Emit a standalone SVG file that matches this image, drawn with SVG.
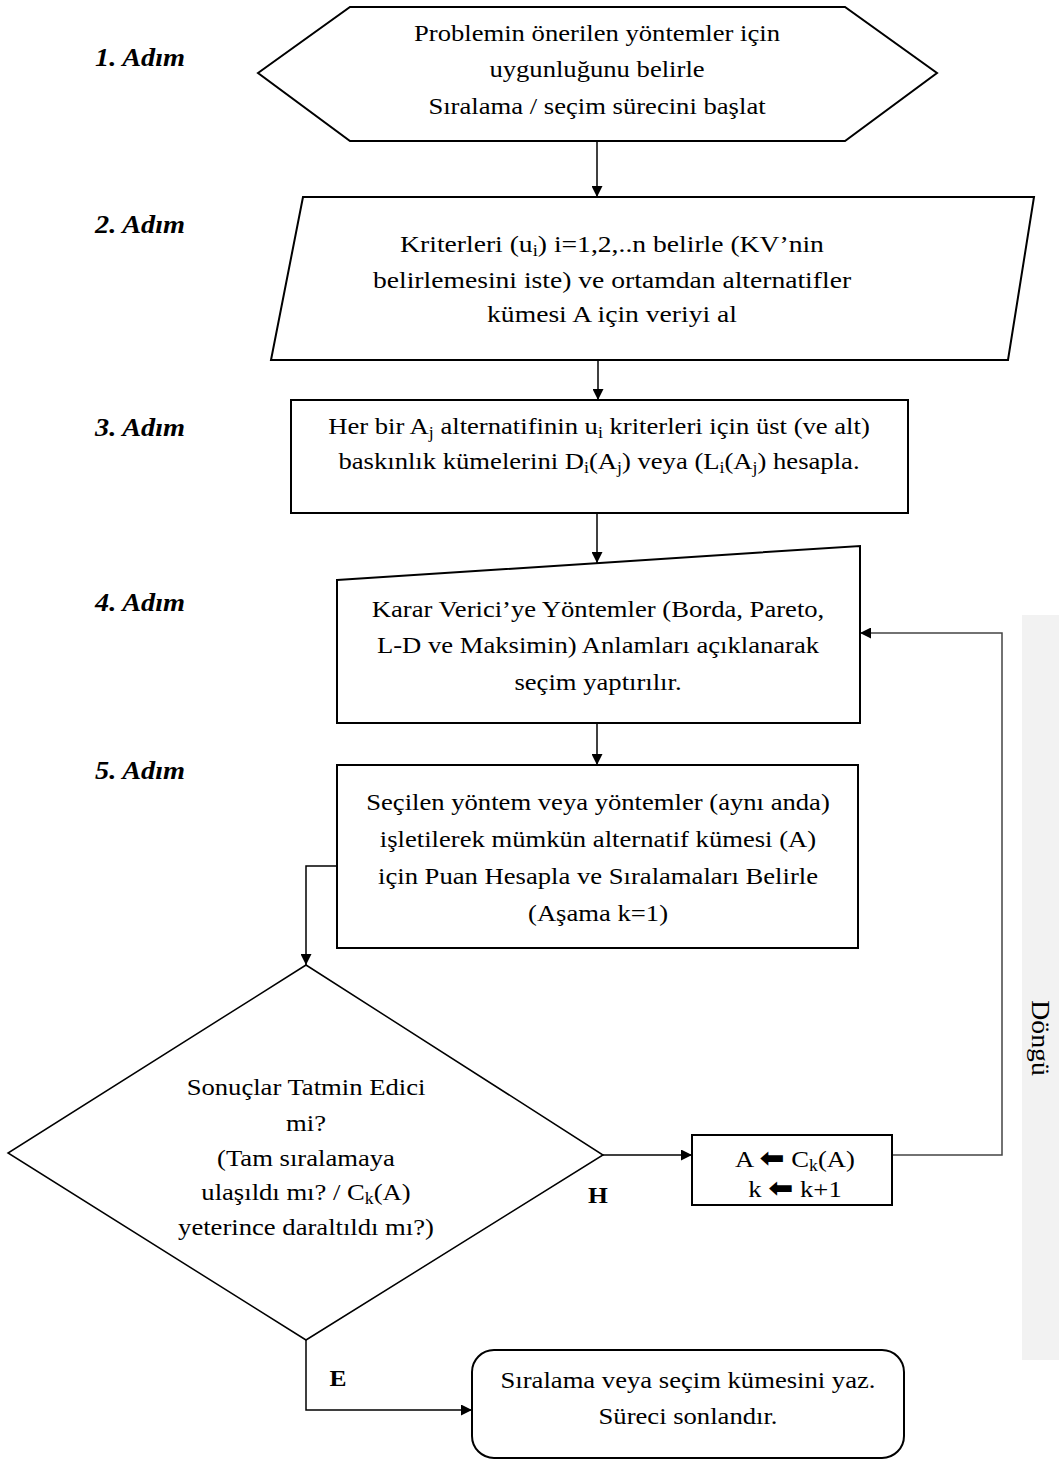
<svg xmlns="http://www.w3.org/2000/svg" width="1059" height="1461" viewBox="0 0 1059 1461">
<style>
.shape{fill:#fff;stroke:#000;stroke-width:2}
.thin{fill:#fff;stroke:#000;stroke-width:1.5}
.t{font-family:"Liberation Serif","Times New Roman",serif;font-size:24px;fill:#000;text-anchor:middle}
.step{font-family:"Liberation Serif","Times New Roman",serif;font-size:25.5px;font-weight:bold;font-style:italic;fill:#000}
.lbl{font-family:"Liberation Serif","Times New Roman",serif;font-size:23px;font-weight:bold;fill:#000}
.c{fill:none;stroke:#000;stroke-width:1.5}
.sub{font-size:16px}
.arw{font-family:"DejaVu Sans",sans-serif;font-size:27px;font-weight:bold}
</style>
<defs>
<marker id="ah" viewBox="0 0 10 10" refX="10" refY="5" markerWidth="11" markerHeight="11" markerUnits="userSpaceOnUse" orient="auto"><path d="M0,0 L10,5 L0,10 z" fill="#000"/></marker>
</defs>
<rect x="1022" y="615" width="37" height="745" fill="#f2f2f2"/>
<text class="t" transform="translate(1032,1038) rotate(90) scale(1.11 1)" x="0" y="0" style="font-size:25px">Döngü</text>
<g id="steps">
<text class="step" transform="translate(95 0) scale(1.11 1)" x="0" y="66">1. Adım</text>
<text class="step" transform="translate(95 0) scale(1.11 1)" x="0" y="233">2. Adım</text>
<text class="step" transform="translate(95 0) scale(1.11 1)" x="0" y="436">3. Adım</text>
<text class="step" transform="translate(95 0) scale(1.11 1)" x="0" y="611">4. Adım</text>
<text class="step" transform="translate(95 0) scale(1.11 1)" x="0" y="779">5. Adım</text>
</g>
<g id="connectors">
<line class="c" x1="597" y1="141" x2="597" y2="197" marker-end="url(#ah)"/>
<line class="c" x1="598" y1="360" x2="598" y2="400" marker-end="url(#ah)"/>
<line class="c" x1="597" y1="513" x2="597" y2="563" marker-end="url(#ah)"/>
<line class="c" x1="597" y1="723" x2="597" y2="765" marker-end="url(#ah)"/>
<polyline class="c" points="337,866 306,866 306,965" marker-end="url(#ah)"/>
<polyline class="c" points="603,1155 692,1155" marker-end="url(#ah)"/>
<polyline class="c" points="892,1155 1002,1155 1002,633 860,633" marker-end="url(#ah)" style="stroke:#444"/>
<polyline class="c" points="306,1340 306,1410 472,1410" marker-end="url(#ah)"/>
<text class="lbl" transform="translate(598 0) scale(1.11 1)" x="0" y="1203" text-anchor="middle">H</text>
<text class="lbl" transform="translate(338 0) scale(1.11 1)" x="0" y="1386" text-anchor="middle">E</text>
</g>
<g id="n1">
<polygon class="shape" points="258,73 350,7 845,7 937,73 845,141 350,141"/>
<text class="t" transform="translate(597 0) scale(1.11 1)" x="0" y="41">Problemin önerilen yöntemler için</text>
<text class="t" transform="translate(597 0) scale(1.11 1)" x="0" y="77">uygunluğunu belirle</text>
<text class="t" transform="translate(597 0) scale(1.11 1)" x="0" y="114">Sıralama / seçim sürecini başlat</text>
</g>
<g id="n2">
<polygon class="shape" points="303,197 1034,197 1008,360 271,360"/>
<text class="t" transform="translate(612 0) scale(1.15 1)" x="0" y="252">Kriterleri (u<tspan class="sub" dy="4">i</tspan><tspan dy="-4">) i=1,2,..n belirle (KV’nin</tspan></text>
<text class="t" transform="translate(612 0) scale(1.15 1)" x="0" y="288">belirlemesini iste) ve ortamdan alternatifler</text>
<text class="t" transform="translate(612 0) scale(1.15 1)" x="0" y="322">kümesi A için veriyi al</text>
</g>
<g id="n3">
<rect class="shape" x="291" y="400" width="617" height="113"/>
<text class="t" transform="translate(599 0) scale(1.11 1)" x="0" y="434">Her bir A<tspan class="sub" dy="4">j</tspan><tspan dy="-4"> alternatifinin u</tspan><tspan class="sub" dy="4">i</tspan><tspan dy="-4"> kriterleri için üst (ve alt)</tspan></text>
<text class="t" transform="translate(599 0) scale(1.11 1)" x="0" y="469">baskınlık kümelerini D<tspan class="sub" dy="4">i</tspan><tspan dy="-4">(A</tspan><tspan class="sub" dy="4">j</tspan><tspan dy="-4">) veya (L</tspan><tspan class="sub" dy="4">i</tspan><tspan dy="-4">(A</tspan><tspan class="sub" dy="4">j</tspan><tspan dy="-4">) hesapla.</tspan></text>
</g>
<g id="n4">
<polygon class="shape" points="337,580 860,546 860,723 337,723"/>
<text class="t" transform="translate(598 0) scale(1.11 1)" x="0" y="617">Karar Verici’ye Yöntemler (Borda, Pareto,</text>
<text class="t" transform="translate(598 0) scale(1.11 1)" x="0" y="653">L-D ve Maksimin) Anlamları açıklanarak</text>
<text class="t" transform="translate(598 0) scale(1.11 1)" x="0" y="690">seçim yaptırılır.</text>
</g>
<g id="n5">
<rect class="shape" x="337" y="765" width="521" height="183"/>
<text class="t" transform="translate(598 0) scale(1.11 1)" x="0" y="810">Seçilen yöntem veya yöntemler (aynı anda)</text>
<text class="t" transform="translate(598 0) scale(1.11 1)" x="0" y="847">işletilerek mümkün alternatif kümesi (A)</text>
<text class="t" transform="translate(598 0) scale(1.11 1)" x="0" y="884">için Puan Hesapla ve Sıralamaları Belirle</text>
<text class="t" transform="translate(598 0) scale(1.11 1)" x="0" y="921">(Aşama k=1)</text>
</g>
<g id="n6">
<polygon class="thin" points="306,965 603,1155 306,1340 8,1153"/>
<text class="t" transform="translate(306 0) scale(1.11 1)" x="0" y="1095">Sonuçlar Tatmin Edici</text>
<text class="t" transform="translate(306 0) scale(1.11 1)" x="0" y="1131">mi?</text>
<text class="t" transform="translate(306 0) scale(1.11 1)" x="0" y="1166">(Tam sıralamaya</text>
<text class="t" transform="translate(306 0) scale(1.11 1)" x="0" y="1200">ulaşıldı mı? / C<tspan class="sub" dy="4">k</tspan><tspan dy="-4">(A)</tspan></text>
<text class="t" transform="translate(306 0) scale(1.11 1)" x="0" y="1235">yeterince daraltıldı mı?)</text>
</g>
<g id="n7">
<rect class="shape" x="692" y="1135" width="200" height="70"/>
<text class="t" transform="translate(795 0) scale(1.11 1)" x="0" y="1167">A <tspan class="arw">⬅</tspan> C<tspan class="sub" dy="4">k</tspan><tspan dy="-4">(A)</tspan></text>
<text class="t" transform="translate(795 0) scale(1.11 1)" x="0" y="1197">k <tspan class="arw">⬅</tspan> k+1</text>
</g>
<g id="n8">
<rect class="shape" x="472" y="1350" width="432" height="108" rx="22"/>
<text class="t" transform="translate(688 0) scale(1.11 1)" x="0" y="1388">Sıralama veya seçim kümesini yaz.</text>
<text class="t" transform="translate(688 0) scale(1.11 1)" x="0" y="1424">Süreci sonlandır.</text>
</g>
</svg>
